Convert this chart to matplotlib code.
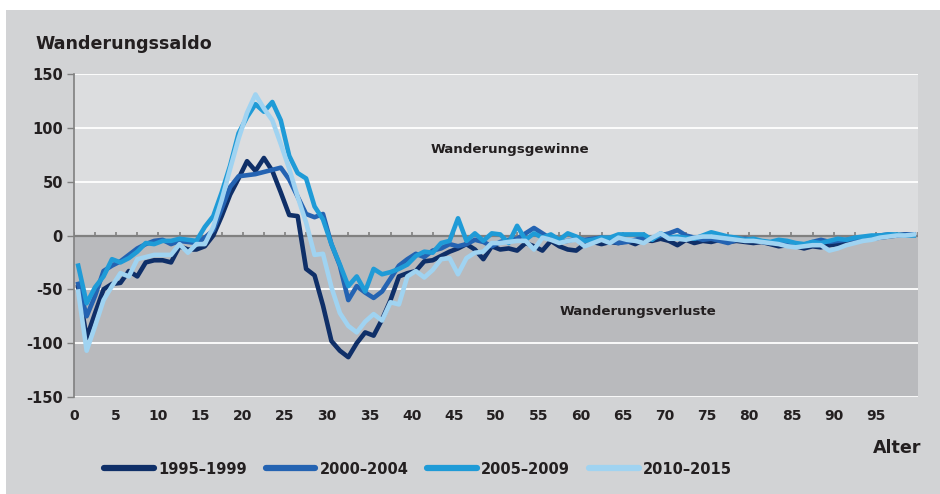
import numpy as np
import matplotlib
matplotlib.use("Agg")
import matplotlib.pyplot as plt
from matplotlib.patches import Rectangle

plt.rcParams['axes.unicode_minus'] = False

# Wanderungssaldo nach Alter, vier Zeiträume
ages = np.arange(0, 100)

s_1995 = [-48, -95, -72, -50, -45, -44, -33, -38, -25, -23,
          -23, -25, -10, -13, -13, -10, 0, 18, 38, 53,
          69, 60, 72, 60, 40, 19, 18, -31, -37, -65,
          -98, -107, -113, -100, -90, -93, -78, -60, -38, -35,
          -33, -24, -23, -19, -15, -12, -8, -13, -22, -10,
          -13, -12, -14, -7, -10, -14, -5, -10, -13, -14,
          -8, -6, -8, -6, -7, -5, -8, -4, -5, -3,
          -5, -9, -4, -7, -5, -6, -4, -6, -5, -6,
          -7, -6, -8, -10, -9, -10, -12, -10, -11, -9,
          -8, -6, -5, -4, -3, -2, -1, 0, 1, 1]

s_2000 = [-45, -75, -56, -33, -28, -24, -18, -12, -8, -5,
          -4, -8, -5, -6, -7, -2, 5, 25, 45, 55,
          56, 57, 59, 61, 63, 52, 36, 20, 17, 20,
          -8, -28, -60, -47, -53, -58, -52, -40, -28, -22,
          -17, -20, -14, -12, -8, -10, -8, -4, -6, -10,
          -6, -4, -3, 2, 7, 2, -3, -6, -5, -3,
          -4, -3, -2, -5, -7, -6, -4, -2, -3, 0,
          2, 5, 0, -2, -4, -3, -5, -7, -4, -3,
          -4, -6, -7, -5, -7, -8, -9, -6, -4, -6,
          -5, -4, -3, -2, -1, 0, 1, 0, 1, 1]

s_2005 = [-28, -63, -48, -38, -22, -25, -21, -15, -7, -8,
          -5, -5, -3, -4, -5, 8, 18, 40, 65, 95,
          110, 122, 115, 124, 107, 74, 58, 53, 27, 15,
          -8, -27, -47, -38, -52, -31, -36, -34, -31, -27,
          -19, -15, -16, -7, -5, 16, -5, 2, -5, 2,
          1, -7, 9, -4, 2, -2, 1, -4, 2, -1,
          -5, -4, -2, -2, 1, 1, 1, 1, -4, 2,
          -2, -1, -2, -3, 0, 3, 1, -1, -2, -4,
          -3, -5, -6, -4, -5, -7, -8, -6, -7, -5,
          -3, -4, -2, -1, 0, 0, 1, 1, 0, 0]

s_2010 = [-52, -107, -84, -60, -47, -35, -38, -22, -20, -18,
          -18, -18, -8, -16, -8, -8, 8, 33, 62, 90,
          114, 131, 118, 107, 85, 62, 36, 12, -18, -17,
          -48, -72, -84, -90, -80, -73, -79, -62, -64, -38,
          -33, -39, -32, -22, -21, -36, -21, -16, -15, -7,
          -7, -6, -5, -5, -13, -2, -4, -7, -5, -4,
          -10, -7, -4, -7, -2, -4, -5, -7, -2, 2,
          -3, -3, -4, -2, -1, -1, -2, -3, -4, -5,
          -5, -6, -7, -8, -10, -11, -10, -9, -9, -14,
          -12, -9, -7, -5, -4, -2, -1, 0, 0, 1]

labels = ['1995–1999', '2000–2004', '2005–2009', '2010–2015']
colors = ['#0f2f68', '#2463b2', '#1f9bd7', '#a0d3f1']
series = [s_1995, s_2000, s_2005, s_2010]

W, H = 940, 494
fig = plt.figure(figsize=[9.4, 4.94], dpi=100)
fig.patch.set_facecolor('white')
fig.patches.append(Rectangle((6 / W, 0), 1, 1 - 10 / H, transform=fig.transFigure,
                             facecolor='#d2d3d5', edgecolor='none', zorder=-10))

ax = fig.add_axes([74 / W, 1 - 397 / H, (918 - 74) / W, (397 - 74) / H])
ax.set_xlim(0, 100)
ax.set_ylim(-150, 150)
ax.set_facecolor('none')

# two-tone background, gridlines, zero axis
ax.axhspan(0, 150, color='#dcdddf', zorder=0, lw=0)
ax.axhspan(-150, 0, color='#b9babd', zorder=0, lw=0)
for v in [150, 100, 50, -50, -100, -150]:
    ax.axhline(v, color='white', lw=1.3, zorder=1)
ax.axhline(0, color='#808080', lw=1.6, zorder=1.5)
ax.vlines(np.arange(0, 100.1, 2.5), 0, 3.5, color='#808080', lw=1.2, zorder=1.5)

for s, lab, c in zip(series, labels, colors):
    ax.plot(ages + 0.5, s, color=c, lw=3.3, label=lab, zorder=3)

ax.set_xticks(np.arange(0, 96, 5))
ax.set_yticks(np.arange(-150, 151, 50))
ax.tick_params(axis='x', length=0, pad=9, labelsize=10, colors='#231f20')
ax.tick_params(axis='y', length=5, width=1, color='#808080', pad=3, labelsize=10.5,
               labelcolor='#231f20')
for t in ax.get_xticklabels() + ax.get_yticklabels():
    t.set_fontweight('bold')
for sp in ['top', 'right', 'bottom']:
    ax.spines[sp].set_visible(False)
ax.spines['left'].set_color('#808080')
ax.spines['left'].set_linewidth(1.2)

ax.text(51.7, 80, 'Wanderungsgewinne', ha='center', va='center',
        fontsize=9.6, fontweight='bold', color='#231f20', zorder=4)
ax.text(66.8, -71, 'Wanderungsverluste', ha='center', va='center',
        fontsize=9.6, fontweight='bold', color='#231f20', zorder=4)

fig.text(35 / W, 1 - 44 / H, 'Wanderungssaldo', ha='left', va='center',
         fontsize=12.6, fontweight='bold', color='#231f20')
fig.text(921 / W, 1 - 448 / H, 'Alter', ha='right', va='center',
         fontsize=12.6, fontweight='bold', color='#231f20')

leg = fig.legend(loc='center left', bbox_to_anchor=(104 / W, 1 - 469 / H), ncol=4,
                 frameon=False, handlelength=3.4, handletextpad=0.3, columnspacing=1.3,
                 borderpad=0, borderaxespad=0, prop={'weight': 'bold', 'size': 10.5})
for t in leg.get_texts():
    t.set_color('#231f20')
for h in leg.legend_handles:
    h.set_linewidth(4.5)
    h.set_solid_capstyle('round')

fig.savefig('out.png', dpi=100, facecolor=fig.get_facecolor())
